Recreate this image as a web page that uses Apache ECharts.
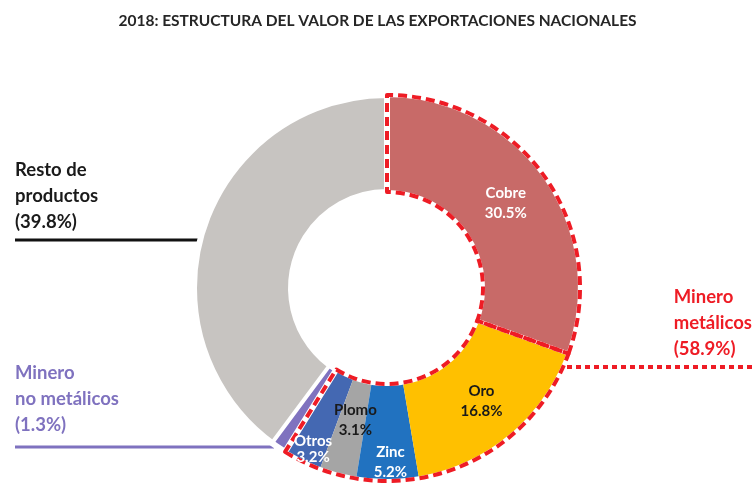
<!DOCTYPE html>
<html>
<head>
<meta charset="utf-8">
<script src="https://cdn.jsdelivr.net/npm/echarts@6/dist/echarts.min.js"></script>
<style>
html, body { margin: 0; padding: 0; background: #fff; }
#chart { width: 755px; height: 487px; }
</style>
</head>
<body>
<div id="chart"></div>
<script>
// datos
const titleText = '2018: ESTRUCTURA DEL VALOR DE LAS EXPORTACIONES NACIONALES'
const metalNames = ['Cobre', 'Oro', 'Zinc', 'Plomo', 'Otros']
const metalValues = [30.5, 16.8, 5.2, 3.1, 3.2]
const groupNames = ['Minero metálicos', 'Minero no metálicos', 'Resto de productos']
const groupValues = [58.9, 1.3, 39.8]
const groupLines = [['Minero', 'metálicos'], ['Minero', 'no metálicos'], ['Resto de', 'productos']]

// estilos
const metalColors = ['#C86A68', '#FFC000', '#2172C0', '#A5A5A5', '#4468B2']
const metalLabelColors = ['#ffffff', '#1a1a1a', '#ffffff', '#1a1a1a', '#ffffff']
const metalLabelOffsets = [[-2, 0], [0, 0], [3, 27], [6, -10], [-9, 29]]
const noMetalColor = '#7F72BF'
const restColor = '#C7C4C1'
const red = '#EE1C25'
const font = 'Lato, "Open Sans", sans-serif'
const center = [387, 288]
const radius = [96, 193]

const pct = v => v.toFixed(1) + '%'
const sum = arr => arr.reduce((a, b) => a + b, 0)

// orden antihorario desde arriba: resto, no metálicos, luego metales de Otros a Cobre
const mainData = [
  { name: groupNames[2], value: groupValues[2], itemStyle: { color: restColor }, label: { show: false } },
  { name: groupNames[1], value: groupValues[1], itemStyle: { color: noMetalColor, borderColor: '#fff', borderWidth: 4 }, label: { show: false } }
]
for (let i = metalNames.length - 1; i >= 0; i--) {
  mainData.push({
    name: metalNames[i],
    value: metalValues[i],
    itemStyle: { color: metalColors[i] },
    label: { color: metalLabelColors[i], offset: metalLabelOffsets[i] }
  })
}
mainData[2].label.lineHeight = 16

const otherMetals = sum(metalValues.slice(1))
const nonMetal = groupValues[1] + groupValues[2]

function outlineData (stroke, dashed) {
  return [
    { value: nonMetal, itemStyle: { color: 'transparent', borderColor: dashed ? 'transparent' : stroke, borderWidth: dashed ? 0 : 6 } },
    { value: otherMetals, itemStyle: { color: 'transparent', borderColor: stroke, borderWidth: 4, borderType: dashed ? [9, 5] : 'solid' } },
    { value: metalValues[0], itemStyle: { color: 'transparent', borderColor: stroke, borderWidth: 4, borderType: dashed ? [9, 5] : 'solid' } }
  ]
}

const outlineBase = {
  type: 'pie',
  center: center,
  radius: radius,
  startAngle: 90,
  clockwise: false,
  silent: true,
  animation: false,
  label: { show: false },
  labelLine: { show: false },
  emphasis: { disabled: true }
}

const chart = echarts.init(document.getElementById('chart'))
chart.setOption({
  backgroundColor: '#ffffff',
  title: {
    text: titleText,
    left: 'center',
    top: 8,
    textStyle: { fontFamily: font, fontSize: 15.5, fontWeight: 'bold', color: '#262626' }
  },
  series: [
    {
      type: 'pie',
      center: center,
      radius: radius,
      startAngle: 90,
      clockwise: false,
      animation: false,
      data: mainData,
      label: {
        show: true,
        position: 'inside',
        formatter: p => p.name + '\n' + pct(p.value),
        fontFamily: font,
        fontSize: 15,
        fontWeight: 'bold',
        lineHeight: 20
      },
      labelLine: { show: false },
      emphasis: { disabled: true }
    },
    Object.assign({}, outlineBase, { data: outlineData('#ffffff', false) }),
    Object.assign({}, outlineBase, { data: outlineData(red, true) })
  ],
  graphic: [
    {
      type: 'text',
      left: 15,
      top: 157,
      style: {
        text: groupLines[2].join('\n') + '\n(' + pct(groupValues[2]) + ')',
        font: 'bold 18.5px ' + font,
        fill: '#1a1a1a',
        lineHeight: 26
      }
    },
    { type: 'line', shape: { x1: 15, y1: 240, x2: 198, y2: 240 }, style: { stroke: '#111', lineWidth: 3 } },
    {
      type: 'text',
      left: 15,
      top: 360,
      style: {
        text: groupLines[1].join('\n') + '\n(' + pct(groupValues[1]) + ')',
        font: 'bold 18.5px ' + font,
        fill: noMetalColor,
        lineHeight: 26
      }
    },
    { type: 'line', shape: { x1: 15, y1: 447, x2: 274, y2: 447 }, style: { stroke: noMetalColor, lineWidth: 3 } },
    {
      type: 'text',
      right: 3,
      top: 284,
      style: {
        text: groupLines[0].join('\n') + '\n(' + pct(groupValues[0]) + ')',
        font: 'bold 18.5px ' + font,
        fill: red,
        align: 'right',
        lineHeight: 26
      }
    },
    { type: 'line', shape: { x1: 567, y1: 367, x2: 752, y2: 367 }, style: { stroke: red, lineWidth: 4, lineDash: [5, 4] } }
  ]
})
</script>
</body>
</html>
